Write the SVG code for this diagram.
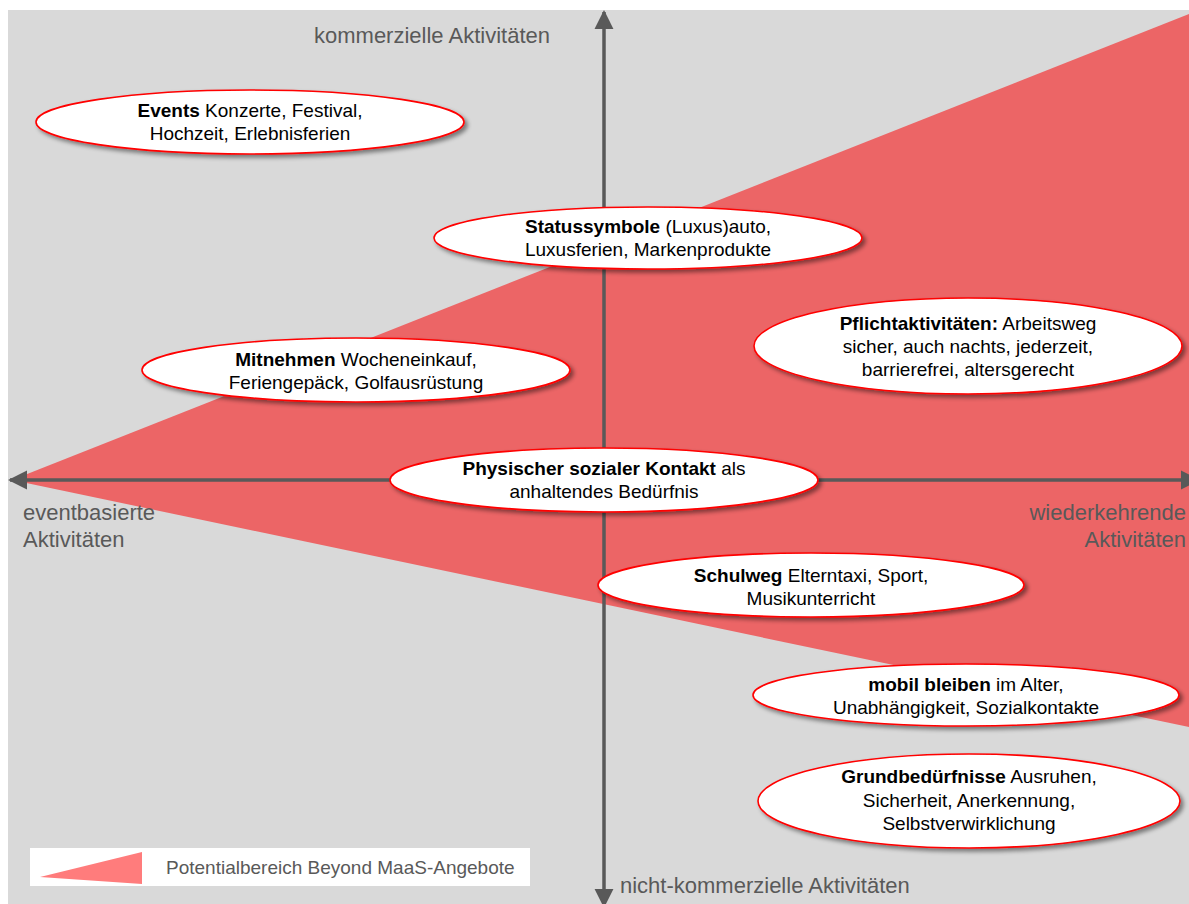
<svg xmlns="http://www.w3.org/2000/svg" width="1189" height="904" viewBox="0 0 1189 904">
  <defs>
    <filter id="shadow" x="-10%" y="-30%" width="120%" height="170%">
      <feDropShadow dx="3" dy="3" stdDeviation="2" flood-color="#000" flood-opacity="0.45"/>
    </filter>
    <marker id="arrow" viewBox="0 0 10 10" refX="9" refY="5" markerWidth="5.5" markerHeight="6.5" orient="auto" markerUnits="strokeWidth">
      <path d="M0,0 L10,5 L0,10 z" fill="#595959"/>
    </marker>
  </defs>
  <style>
    .axis { stroke: #595959; stroke-width: 3.5; fill: none; }
    .axlabel { font-family: "Liberation Sans", Arial, sans-serif; font-size: 22px; fill: #595959; }
    .bubble { fill: #ffffff; stroke: #ff0000; stroke-width: 1.6; filter: url(#shadow); }
    .txt { font-family: "Liberation Sans", Arial, sans-serif; font-size: 19px; fill: #000000; text-anchor: middle; }
    .b { font-weight: bold; }
    .legend { font-family: "Liberation Sans", Arial, sans-serif; font-size: 19px; fill: #595959; }
  </style>

  <!-- background plane -->
  <rect x="0" y="0" width="1189" height="904" fill="#ffffff"/>
  <rect x="8" y="10" width="1181" height="894" fill="#d9d9d9"/>

  <!-- potential area wedge -->
  <polygon points="12,480 1189,14 1189,727" fill="#ec6566"/>

  <!-- axes -->
  <g id="connectors">
    <line class="axis" x1="604" y1="480" x2="604" y2="12" marker-end="url(#arrow)"/>
    <line class="axis" x1="604" y1="480" x2="604" y2="906" marker-end="url(#arrow)"/>
    <line class="axis" x1="604" y1="480" x2="10" y2="480" marker-end="url(#arrow)"/>
    <line class="axis" x1="604" y1="480" x2="1198" y2="480" marker-end="url(#arrow)"/>
  </g>

  <!-- axis labels -->
  <text class="axlabel" x="314" y="43">kommerzielle Aktivitäten</text>
  <text class="axlabel" x="23" y="520">eventbasierte</text>
  <text class="axlabel" x="23" y="547">Aktivitäten</text>
  <text class="axlabel" x="1186" y="520" text-anchor="end">wiederkehrende</text>
  <text class="axlabel" x="1186" y="547" text-anchor="end">Aktivitäten</text>
  <text class="axlabel" x="620" y="893">nicht-kommerzielle Aktivitäten</text>

  <!-- nodes -->
  <g id="events">
    <ellipse class="bubble" cx="250" cy="122" rx="214" ry="32"/>
    <text class="txt" x="250" y="117"><tspan class="b">Events</tspan> Konzerte, Festival,</text>
    <text class="txt" x="250" y="140">Hochzeit, Erlebnisferien</text>
  </g>

  <g id="statussymbole">
    <ellipse class="bubble" cx="648" cy="238" rx="214" ry="31"/>
    <text class="txt" x="648" y="233"><tspan class="b">Statussymbole</tspan> (Luxus)auto,</text>
    <text class="txt" x="648" y="256">Luxusferien, Markenprodukte</text>
  </g>

  <g id="mitnehmen">
    <ellipse class="bubble" cx="356" cy="370" rx="214" ry="32"/>
    <text class="txt" x="356" y="366"><tspan class="b">Mitnehmen</tspan> Wocheneinkauf,</text>
    <text class="txt" x="356" y="389">Feriengepäck, Golfausrüstung</text>
  </g>

  <g id="pflichtaktivitaeten">
    <ellipse class="bubble" cx="968" cy="346" rx="214" ry="48"/>
    <text class="txt" x="968" y="330"><tspan class="b">Pflichtaktivitäten:</tspan> Arbeitsweg</text>
    <text class="txt" x="968" y="353">sicher, auch nachts, jederzeit,</text>
    <text class="txt" x="968" y="376">barrierefrei, altersgerecht</text>
  </g>

  <g id="sozialer-kontakt">
    <ellipse class="bubble" cx="604" cy="480" rx="214" ry="32"/>
    <text class="txt" x="604" y="475"><tspan class="b">Physischer sozialer Kontakt</tspan> als</text>
    <text class="txt" x="604" y="498">anhaltendes Bedürfnis</text>
  </g>

  <g id="schulweg">
    <ellipse class="bubble" cx="811" cy="585" rx="213" ry="32"/>
    <text class="txt" x="811" y="582"><tspan class="b">Schulweg</tspan> Elterntaxi, Sport,</text>
    <text class="txt" x="811" y="605">Musikunterricht</text>
  </g>

  <g id="mobil-bleiben">
    <ellipse class="bubble" cx="966" cy="695" rx="213" ry="31"/>
    <text class="txt" x="966" y="691"><tspan class="b">mobil bleiben</tspan> im Alter,</text>
    <text class="txt" x="966" y="714">Unabhängigkeit, Sozialkontakte</text>
  </g>

  <g id="grundbeduerfnisse">
    <ellipse class="bubble" cx="969" cy="801" rx="211" ry="47"/>
    <text class="txt" x="969" y="783"><tspan class="b">Grundbedürfnisse</tspan> Ausruhen,</text>
    <text class="txt" x="969" y="807">Sicherheit, Anerkennung,</text>
    <text class="txt" x="969" y="830">Selbstverwirklichung</text>
  </g>

  <!-- legend -->
  <g id="legend">
    <rect x="30" y="848" width="500" height="38" fill="#ffffff"/>
    <polygon points="40,877 142,852 142,884" fill="#ff7c7c"/>
    <text class="legend" x="166" y="874">Potentialbereich Beyond MaaS-Angebote</text>
  </g>
</svg>
